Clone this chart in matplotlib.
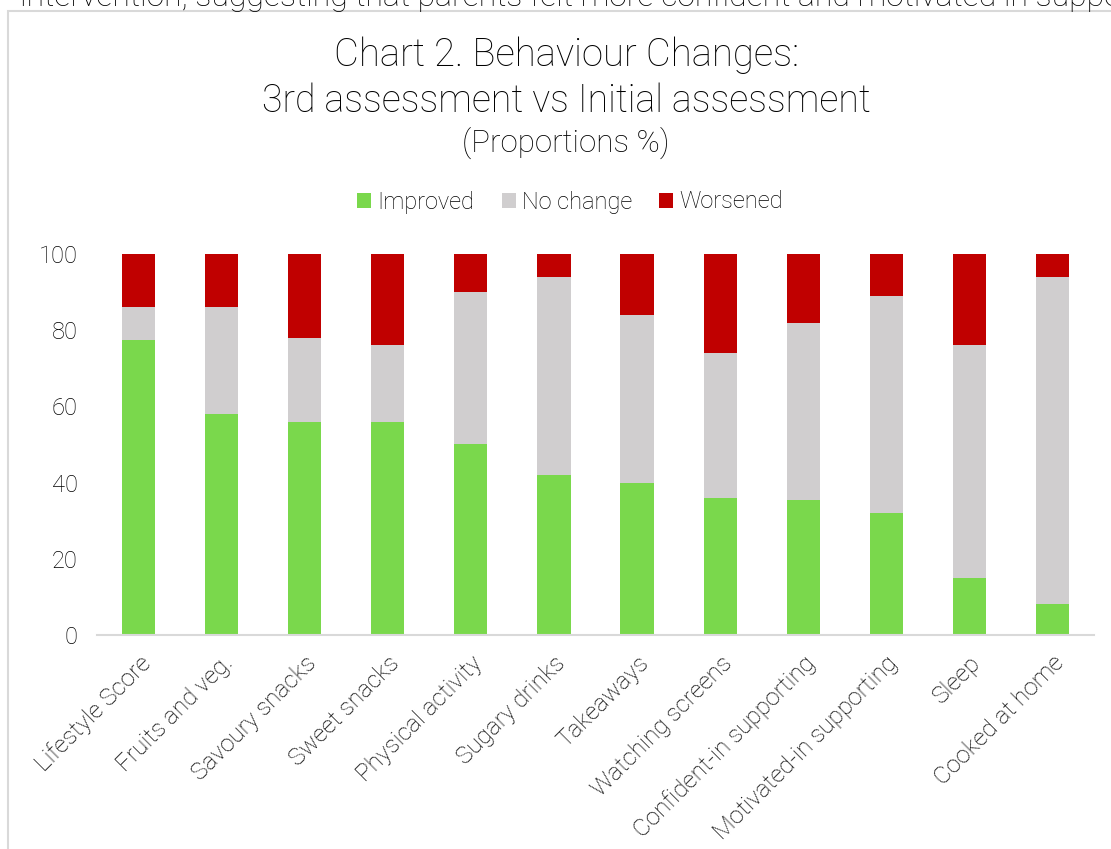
import matplotlib
matplotlib.use('Agg')
import matplotlib.pyplot as plt
from matplotlib.patches import Rectangle
import numpy as np

categories = ['Lifestyle Score', 'Fruits and veg.', 'Savoury snacks', 'Sweet snacks',
              'Physical activity', 'Sugary drinks', 'Takeaways', 'Watching screens',
              'Confident-in supporting', 'Motivated-in supporting', 'Sleep', 'Cooked at home']
improved = [77.5, 58, 56, 56, 50, 42, 40, 36, 35.5, 32, 15, 8]
no_change = [8.5, 28, 22, 20, 40, 52, 44, 38, 46.5, 57, 61, 86]
worsened = [14, 14, 22, 24, 10, 6, 16, 26, 18, 11, 24, 6]
yticks = [0, 20, 40, 60, 80, 100]

GREEN = '#7AD84C'
GREY = '#D0CECF'
RED = '#C00000'
INK = '#000000'

plt.rcParams['font.family'] = ['Roboto', 'DejaVu Sans']
plt.rcParams['font.weight'] = 'light'

fig = plt.figure(figsize=(11.11, 8.49), dpi=100)
ax = fig.add_axes([0.0873, 0.2521, 0.8974, 0.4487])

x = np.arange(len(categories))
w = 0.4
ax.bar(x, improved, w, color=GREEN, label='Improved')
ax.bar(x, no_change, w, bottom=improved, color=GREY, label='No change')
ax.bar(x, worsened, w, bottom=np.add(improved, no_change), color=RED, label='Worsened')

ax.set_xlim(-0.5, len(categories) - 0.5)
ax.set_ylim(0, 100)
ax.set_yticks(yticks)
ax.tick_params(axis='both', length=0, labelsize=17, colors=INK)
ax.tick_params(axis='y', pad=14)
ax.set_xticks(x)
ax.set_xticklabels(categories, rotation=45, ha='right', rotation_mode='anchor', fontsize=17.5)
ax.tick_params(axis='x', pad=12)
for s in ['top', 'right', 'left']:
    ax.spines[s].set_visible(False)
ax.spines['bottom'].set_color('#D9D9D9')
ax.spines['bottom'].set_linewidth(1.5)

cx = 566 / 1111
fig.text(cx, 1 - 55 / 849, 'Chart 2. Behaviour Changes:', ha='center', va='center',
         fontsize=27.5, color=INK)
fig.text(cx, 1 - 101 / 849, '3rd assessment vs Initial assessment', ha='center', va='center',
         fontsize=27, color=INK)
fig.text(cx, 1 - 143 / 849, '(Proportions %)', ha='center', va='center',
         fontsize=22.5, color=INK)

leg = ax.legend(loc='center', bbox_to_anchor=(570 / 1111, 1 - 202 / 849),
                bbox_transform=fig.transFigure, ncol=3, frameon=False, fontsize=17,
                handlelength=0.6, handleheight=0.6, handletextpad=0.25, columnspacing=1.15)
for t in leg.get_texts():
    t.set_color(INK)

# surrounding frame and clipped text from the page above
fig.add_artist(Rectangle((8 / 1111, -0.05), 1.2, 1 - 11 / 849 + 0.05, transform=fig.transFigure,
                         fill=False, edgecolor='#D9D9D9', linewidth=1.5))
fig.text(20 / 1111, 1 - 6 / 849,
         'intervention, suggesting that parents felt more confident and motivated in supporting',
         ha='left', va='baseline', fontsize=23, color=INK)

fig.savefig('out.png', dpi=100)
